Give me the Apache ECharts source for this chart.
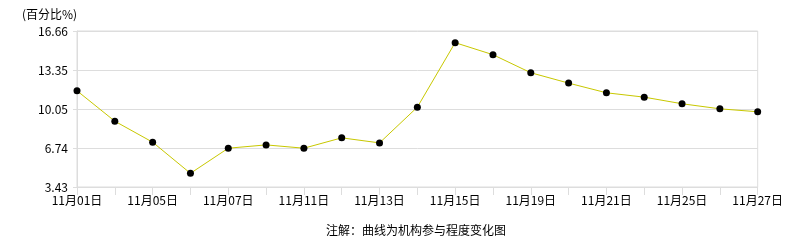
<!DOCTYPE html>
<html><head><meta charset="utf-8">
<script src="https://cdn.jsdelivr.net/npm/echarts@6/dist/echarts.min.js"></script>
<style>html,body{margin:0;padding:0;background:#fff}#c{width:786px;height:240px}</style>
</head><body><div id="c"></div>
<script>
const categories = ['11月01日','11月04日','11月05日','11月06日','11月07日','11月08日','11月11日','11月12日','11月13日','11月14日','11月15日','11月18日','11月19日','11月20日','11月21日','11月22日','11月25日','11月26日','11月27日'];
const values = [11.59, 9.01, 7.23, 4.59, 6.72, 7.00, 6.72, 7.60, 7.17, 10.20, 15.67, 14.65, 13.12, 12.24, 11.42, 11.05, 10.49, 10.06, 9.81];
const yTicks = [3.43, 6.74, 10.05, 13.35, 16.66];
const unitLabel = '(百分比%)';
const note = '注解：曲线为机构参与程度变化图';

const font = '"Noto Sans CJK SC", "DejaVu Sans", sans-serif';
const chart = echarts.init(document.getElementById('c'), null, {renderer: 'canvas'});
chart.setOption({
  animation: false,
  backgroundColor: '#fff',
  textStyle: {fontFamily: font},
  title: [
    {text: unitLabel, left: 17, top: 3, textStyle: {fontSize: 12, fontWeight: 'normal', color: '#000', fontFamily: font}},
    {text: note, left: 411, textAlign: 'center', top: 219, textStyle: {fontSize: 12, fontWeight: 'normal', color: '#000', fontFamily: font}}
  ],
  grid: {left: 77, right: 26, top: 31, bottom: 53, show: true, borderColor: '#dddddd', borderWidth: 1},
  xAxis: {
    type: 'category',
    data: categories,
    boundaryGap: false,
    axisLine: {lineStyle: {color: '#dddddd'}},
    axisTick: {show: true, length: 8, interval: 0, lineStyle: {color: '#dddddd'}},
    axisLabel: {interval: 1, color: '#000', fontSize: 12, margin: 7, fontFamily: font},
    splitLine: {show: false}
  },
  yAxis: {
    type: 'value',
    min: yTicks[0],
    max: yTicks[yTicks.length - 1],
    axisLine: {show: true, lineStyle: {color: '#dddddd'}},
    axisTick: {show: true, length: 4, customValues: yTicks, lineStyle: {color: '#dddddd'}},
    axisLabel: {customValues: yTicks, formatter: v => v.toFixed(2), color: '#000', fontSize: 12, margin: 9, fontFamily: font},
    splitLine: {show: true, lineStyle: {color: '#dddddd'}}
  },
  series: [{
    type: 'line',
    data: values,
    symbol: 'circle',
    symbolSize: 7,
    itemStyle: {color: '#000'},
    lineStyle: {color: '#c8c800', width: 1},
    emphasis: {disabled: true}
  }]
});
</script></body></html>
